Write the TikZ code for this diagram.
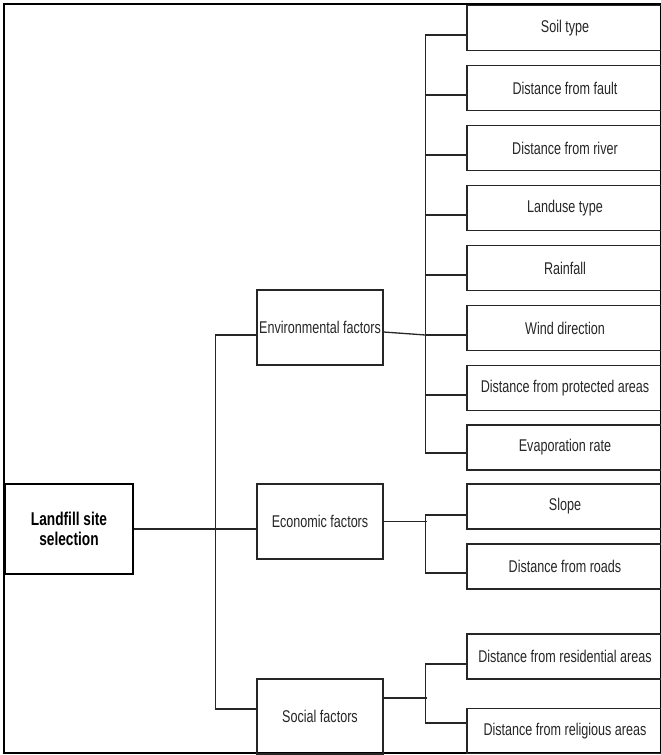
\documentclass[tikz,border=0pt]{standalone}
\usepackage{fontspec}
\setmainfont{Liberation Sans}[FakeStretch=0.74]
\usetikzlibrary{positioning}

\begin{document}
\begin{tikzpicture}[x=1pt,y=-1pt,
    leaf/.style={draw=black!85,rectangle,line width=1.2pt,minimum width=196pt,minimum height=45pt,inner sep=0pt,text=black!85,font=\fontsize{17}{20}\selectfont},
    factor/.style={draw=black!85,rectangle,line width=1.2pt,minimum width=126pt,minimum height=75pt,inner sep=0pt,text=black!85,font=\fontsize{17}{20}\selectfont},
    link/.style={draw=black!85,line width=1.3pt}]
    \useasboundingbox (0,0) rectangle (661,755);
    \draw[line width=2pt] (4,4) rectangle (661,753);

    \node[draw,rectangle,line width=1.3pt,minimum width=128pt,minimum height=90pt,align=center,font=\bfseries\fontsize{18.5}{20}\selectfont] (root) at (69,529) {Landfill site\\selection};

    \node[factor] (env) at (320,327.5) {Environmental factors};
    \node[factor] (econ) at (320,521.5) {Economic factors};
    \node[factor] (social) at (320,716.5) {Social factors};

    \node[leaf] (soil) at (565,28) {Soil type};
    \node[leaf,below of=soil,node distance=60pt] (fault) {Distance from fault};
    \node[leaf,below of=fault,node distance=60pt] (river) {Distance from river};
    \node[leaf,below of=river,node distance=60pt] (landuse) {Landuse type};
    \node[leaf,below of=landuse,node distance=60pt] (rain) {Rainfall};
    \node[leaf,below of=rain,node distance=60pt] (wind) {Wind direction};
    \node[leaf,below of=wind,node distance=60pt] (protect) {Distance from protected areas};
    \node[leaf,below of=protect,node distance=59.5pt] (evap) {Evaporation rate};
    \node[leaf] (slope) at (565,506.5) {Slope};
    \node[leaf,below of=slope,node distance=60pt] (roads) {Distance from roads};
    \node[leaf] (resid) at (565,656.5) {Distance from residential areas};
    \node[leaf] (relig) at (565,731) {Distance from religious areas};

    % root to factors
    \draw[link] (root.east) -- ([yshift=-7.5pt]econ.west);
    \draw[link] ([yshift=-7.5pt]env.west) -- ++(-41pt,0) |- ([yshift=7.5pt]social.west);

    % environmental
    \draw[link] ([yshift=-7pt]soil.west) -- ++(-41pt,0) |- ([yshift=-5.5pt]evap.west);
    \foreach \n in {fault,river,landuse,rain,wind,protect}
        \draw[link] ([yshift=-7pt]\n.west) -- ++(-41pt,0);
    \draw[link] ([yshift=-4.5pt]env.east) -- ([xshift=-41pt,yshift=-7pt]wind.west);

    % economic
    \draw[link] ([yshift=-8.5pt]slope.west) -- ++(-41pt,0) |- ([yshift=-6.5pt]roads.west);
    \draw[link] (econ.east) -- ++(43pt,0);

    % social
    \draw[link] ([yshift=-7.5pt]resid.west) -- ++(-41pt,0) |- ([yshift=8pt]relig.west);
    \draw[link] ([yshift=18.5pt]social.east) -- ++(43pt,0);
\end{tikzpicture}
\end{document}
